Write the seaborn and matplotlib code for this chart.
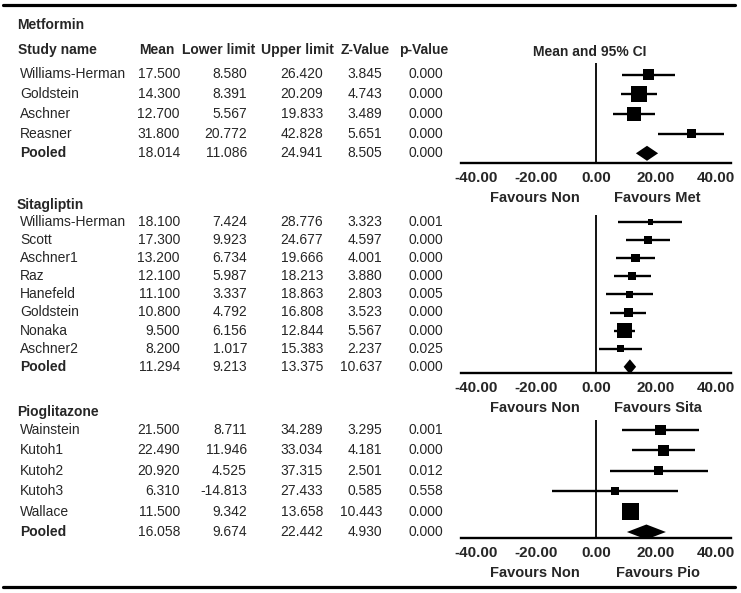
import matplotlib
matplotlib.use("Agg")
import matplotlib.pyplot as plt
import pandas as pd
import seaborn as sns

# Metformin
met_study = ['Williams-Herman', 'Goldstein', 'Aschner', 'Reasner']
met_mean = [17.500, 14.300, 12.700, 31.800]
met_lower = [8.580, 8.391, 5.567, 20.772]
met_upper = [26.420, 20.209, 19.833, 42.828]
met_z = [3.845, 4.743, 3.489, 5.651]
met_p = [0.000, 0.000, 0.000, 0.000]
met_weight = [18.5, 39.1, 30.0, 12.4]
met_pooled = [18.014, 11.086, 24.941, 8.505, 0.000]
met_diamond = [13.3, 20.7]

# Sitagliptin
sita_study = ['Williams-Herman', 'Scott', 'Aschner1', 'Raz', 'Hanefeld',
              'Goldstein', 'Nonaka', 'Aschner2']
sita_mean = [18.100, 17.300, 13.200, 12.100, 11.100, 10.800, 9.500, 8.200]
sita_lower = [7.424, 9.923, 6.734, 5.987, 3.337, 4.792, 6.156, 1.017]
sita_upper = [28.776, 24.677, 19.666, 18.213, 18.863, 16.808, 12.844, 15.383]
sita_z = [3.323, 4.597, 4.001, 3.880, 2.803, 3.523, 5.567, 2.237]
sita_p = [0.001, 0.000, 0.000, 0.000, 0.005, 0.000, 0.000, 0.025]
sita_weight = [4.1, 8.1, 10.6, 10.6, 8.1, 13.4, 37.1, 8.1]
sita_pooled = [11.294, 9.213, 13.375, 10.637, 0.000]
sita_diamond = [9.213, 13.375]

# Pioglitazone
pio_study = ['Wainstein', 'Kutoh1', 'Kutoh2', 'Kutoh3', 'Wallace']
pio_mean = [21.500, 22.490, 20.920, 6.310, 11.500]
pio_lower = [8.711, 11.946, 4.525, -14.813, 9.342]
pio_upper = [34.289, 33.034, 37.315, 27.433, 13.658]
pio_z = [3.295, 4.181, 2.501, 0.585, 10.443]
pio_p = [0.001, 0.000, 0.012, 0.558, 0.000]
pio_weight = [17.3, 20.6, 11.6, 9.2, 41.3]
pio_pooled = [16.058, 9.674, 22.442, 4.930, 0.000]
pio_diamond = [10.3, 23.3]

ticks = [-40, -20, 0, 20, 40]

W, H = 741, 593
num_right = [180, 247, 323, 382, 443]

sns.set_theme(style='white')
plt.rcParams['font.family'] = ['Liberation Sans', 'DejaVu Sans']
plt.rcParams['font.size'] = 10

fig = plt.figure(figsize=(W / 100, H / 100), dpi=100)
bg = fig.add_axes([0, 0, 1, 1])
bg.set_xlim(0, W)
bg.set_ylim(H, 0)
bg.axis('off')

# rules top and bottom
bg.plot([3, 735], [5, 5], color='black', lw=2.3)
bg.plot([3, 735], [587, 587], color='black', lw=2.3)

# column headers
bg.text(18, 50, 'Study name', fontweight='bold', va='center', ha='left')
bg.text(174, 50, 'Mean', fontweight='bold', va='center', ha='right')
bg.text(219, 50, 'Lower limit', fontweight='bold', va='center', ha='center')
bg.text(297, 50, 'Upper limit', fontweight='bold', va='center', ha='center')
bg.text(365, 50, 'Z-Value', fontweight='bold', va='center', ha='center')
bg.text(424, 50, 'p-Value', fontweight='bold', va='center', ha='center')
bg.text(590, 52, 'Mean and 95% CI', fontweight='bold', va='center', ha='center')


def draw_group(title, study, mean, lower, upper, z, p, weight, pooled, diamond,
               fav, lay):
    top, first, step, base, title_y = lay
    names = study + ['Pooled']
    cols = [mean + [pooled[0]], lower + [pooled[1]], upper + [pooled[2]],
            z + [pooled[3]], p + [pooled[4]]]
    n = len(names)

    bg.text(17, title_y, title, fontweight='bold', va='center', ha='left')
    for i in range(n):
        y = first + i * step
        last = i == n - 1
        bg.text(20, y, names[i], va='center', ha='left',
                fontweight='bold' if last else 'normal')
        for cx, col in zip(num_right, cols):
            bg.text(cx, y, f"{col[i]:.3f}", va='center', ha='right')

    ax = fig.add_axes([461 / W, 1 - base / H, 270 / W, (base - top) / H])
    ax.set_facecolor('none')
    ax.set_xlim(-45, 45)
    ax.set_ylim((base - first) / step, (top - first) / step)

    df = pd.DataFrame({'mean': mean, 'lower': lower, 'upper': upper,
                       'row': range(len(study)), 'weight': weight})
    ax.hlines(df['row'], df['lower'], df['upper'], color='black', lw=1.7)
    area = df['weight'] * 3.37
    sns.scatterplot(data=df, x='mean', y='row', size='weight',
                    sizes=(area.min(), area.max()), marker='s', color='black',
                    linewidth=0, legend=False, ax=ax, zorder=3)

    # pooled diamond
    r = len(study)
    c = (diamond[0] + diamond[1]) / 2
    h = 7.5 / step
    ax.fill([diamond[0], c, diamond[1], c], [r, r - h, r, r + h],
            color='black', lw=0)

    ax.axvline(0, color='black', lw=1.3)
    sns.despine(ax=ax, left=True)
    ax.spines['bottom'].set_linewidth(1.7)
    ax.spines['bottom'].set_color('black')
    ax.set_yticks([])
    ax.set_xticks(ticks)
    ax.set_xticklabels([f"{t:.2f}" for t in ticks], fontweight='bold',
                       fontsize=11)
    ax.tick_params(axis='x', length=0, pad=6)
    ax.set_xlabel('')
    ax.set_ylabel('')

    for xpos, label in zip([-20.5, 20.5], ['Favours Non', fav]):
        ax.annotate(label, xy=(xpos, 0), xycoords=('data', 'axes fraction'),
                    xytext=(0, -25), textcoords='offset points',
                    ha='center', va='center', fontweight='bold',
                    fontsize=10.5, annotation_clip=False)


draw_group('Metformin', met_study, met_mean, met_lower, met_upper, met_z,
           met_p, met_weight, met_pooled, met_diamond, 'Favours Met',
           (63, 74.5, 19.7, 163, 25))
draw_group('Sitagliptin', sita_study, sita_mean, sita_lower, sita_upper,
           sita_z, sita_p, sita_weight, sita_pooled, sita_diamond,
           'Favours Sita', (215, 222, 18.1, 373, 205))
draw_group('Pioglitazone', pio_study, pio_mean, pio_lower, pio_upper, pio_z,
           pio_p, pio_weight, pio_pooled, pio_diamond, 'Favours Pio',
           (420, 430, 20.4, 538, 412))

fig.savefig('out.png', dpi=100)
